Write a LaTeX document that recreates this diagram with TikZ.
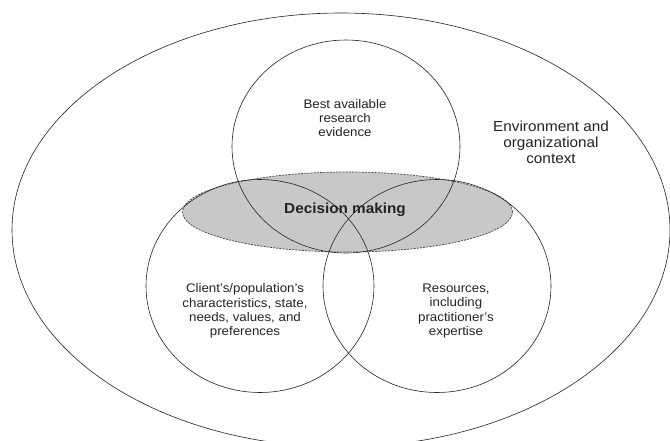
\documentclass[tikz,border=0pt]{standalone}
\usepackage{fontspec}
\setmainfont{Liberation Sans}
\usetikzlibrary{shapes.geometric}
\definecolor{inkc}{RGB}{35,35,35}
\definecolor{fillc}{RGB}{200,200,200}
\tikzset{
  ring/.style={ellipse, draw=inkc, line width=0.6pt, inner sep=0pt},
  venn/.style={ring, minimum width=228pt, minimum height=213pt},
  dmell/.style={ellipse, draw=black!75, fill=fillc, line width=0.7pt, dash pattern=on 2pt off 1.2pt, inner sep=0pt, minimum width=330pt, minimum height=80pt},
  lbl/.style={align=center, text=inkc, font=\fontsize{12.5}{14.3}\selectfont, inner sep=0pt, xscale=1.065},
  biglbl/.style={align=center, text=inkc, font=\fontsize{14.5}{16}\selectfont, inner sep=0pt, xscale=1.055},
}
\begin{document}
\begin{tikzpicture}[x=1pt,y=-1pt]
\useasboundingbox (0,0) rectangle (670,440);
\fill[white] (0,0) rectangle (670,440);
\node[ring, minimum width=658pt, minimum height=434pt] (env) at (341,230) {};
\node[dmell] (dm) at (347.5,212) {};
\node[venn] (top) at (346,146.5) {};
\node[venn] (left) at (260,286) {};
\node[venn] (right) at (437,286) {};
\node[lbl] (toplbl) at (345,118) {Best available\\research\\evidence};
\node[lbl] (leftlbl) at (245,311) {Client's/population's\\characteristics, state,\\needs, values, and\\preferences};
\node[lbl] (rightlbl) at (456,311) {Resources,\\including\\practitioner's\\expertise};
\node[biglbl] (envlbl) at (551,142.5) {Environment and\\organizational\\context};
\node[biglbl, font=\bfseries\fontsize{14.5}{16}\selectfont] (dmlbl) at (345,210) {Decision making};
\end{tikzpicture}
\end{document}
